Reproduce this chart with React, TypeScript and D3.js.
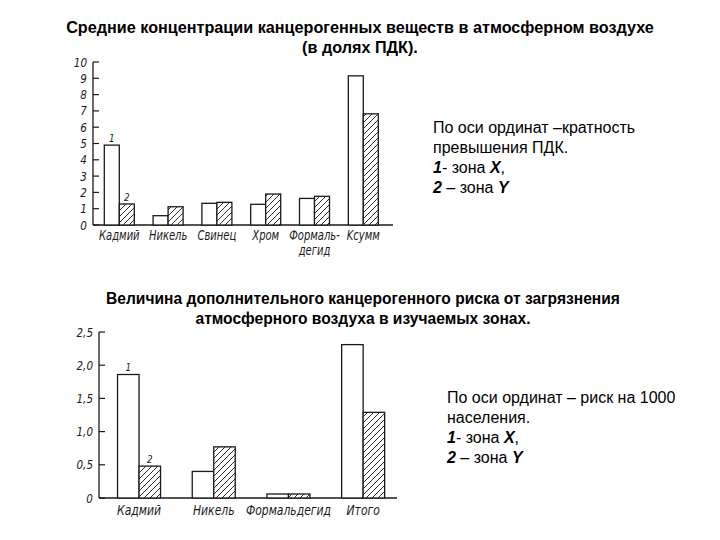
import React from 'react'
import * as d3 from 'd3'

// chart 1: mean concentrations (in MPC fractions)
const concCategories = ['Кадмий', 'Никель', 'Свинец', 'Хром', 'Формаль-\nдегид', 'Kсумм']
const concZoneX = [4.9, 0.57, 1.33, 1.27, 1.63, 9.15]
const concZoneY = [1.29, 1.12, 1.39, 1.9, 1.76, 6.82]
const concTicks = [0, 1, 2, 3, 4, 5, 6, 7, 8, 9, 10]

// chart 2: additional carcinogenic risk
const riskCategories = ['Кадмий', 'Никель', 'Формальдегид', 'Итого']
const riskZoneX = [1.86, 0.4, 0.06, 2.31]
const riskZoneY = [0.48, 0.77, 0.06, 1.29]
const riskTicks = [0, 0.5, 1.0, 1.5, 2.0, 2.5]

const INK = '#1a1a1a'
const HAND = "'DejaVu Sans', sans-serif"

// narrow, hand-lettered look: squeeze the text horizontally
function Hand({ x, y, size, anchor, sx = 0.8, children }: { x: number; y: number; size: number; anchor: 'start' | 'middle' | 'end'; sx?: number; children: React.ReactNode }) {
  return (
    <text transform={`translate(${x},${y}) scale(${sx},1)`} textAnchor={anchor} fontFamily={HAND} fontStyle="italic" fontSize={size} fill={INK}>
      {children}
    </text>
  )
}

interface BarChartProps {
  categories: string[]
  zoneX: number[]
  zoneY: number[]
  ticks: number[]
  domainMax: number
  axisX: number
  axisEnd: number
  bandStart: number
  bandEnd: number
  pairWidth: number
  baseY: number
  topY: number
  tickFmt: (v: number) => string
  labelY: number
  labelScale: number
}

function BarChart(p: BarChartProps) {
  const y = d3.scaleLinear().domain([0, p.domainMax]).range([p.baseY, p.topY])
  const step = (p.bandEnd - p.bandStart) / p.categories.length
  const pi = 1 - p.pairWidth / step
  const x0 = d3.scaleBand<string>()
    .domain(p.categories)
    .range([p.bandStart, p.bandEnd])
    .paddingInner(pi)
    .paddingOuter(pi / 2)
  const x1 = d3.scaleBand<string>().domain(['1', '2']).range([0, x0.bandwidth()])

  return (
    <g>
      {/* axes */}
      <line x1={p.axisX} x2={p.axisX} y1={p.baseY} y2={y(p.domainMax)} stroke={INK} strokeWidth={1.3} />
      <line x1={p.axisX} x2={p.axisEnd} y1={p.baseY} y2={p.baseY} stroke={INK} strokeWidth={1.3} />
      {p.ticks.map(t => (
        <g key={t}>
          <line x1={p.axisX} x2={p.axisX + 6} y1={y(t)} y2={y(t)} stroke={INK} strokeWidth={1.2} />
          <Hand x={p.axisX - 6} y={y(t) + 4.5} size={13} anchor="end">{p.tickFmt(t)}</Hand>
        </g>
      ))}
      {/* bars */}
      {p.categories.map((c, i) => {
        const bx = x0(c)!
        const ax = bx + x1('1')!
        const hx = bx + x1('2')!
        const w = x1.bandwidth()
        const lines = c.split('\n')
        return (
          <g key={c}>
            <rect x={ax} y={y(p.zoneX[i])} width={w} height={p.baseY - y(p.zoneX[i])} fill="#fff" stroke={INK} strokeWidth={1.3} />
            <rect x={hx} y={y(p.zoneY[i])} width={w} height={p.baseY - y(p.zoneY[i])} fill="url(#hatch)" stroke={INK} strokeWidth={1.3} />
            {i === 0 && (
              <>
                <Hand x={ax + w / 2} y={y(p.zoneX[i]) - 3} size={11} anchor="middle">1</Hand>
                <Hand x={hx + w / 2} y={y(p.zoneY[i]) - 3} size={11} anchor="middle">2</Hand>
              </>
            )}
            {lines.map((ln, j) => (
              <Hand key={j} x={bx + x0.bandwidth() / 2} y={p.labelY + j * 15} size={13.5} sx={p.labelScale} anchor="middle">{ln}</Hand>
            ))}
          </g>
        )
      })}
    </g>
  )
}

export default function App() {
  const title = { fontFamily: "'Liberation Sans', Arial, sans-serif", fontWeight: 700, fill: '#000' } as const
  const note = { fontFamily: "'Liberation Sans', Arial, sans-serif", fontSize: 16, fill: '#000' } as const
  return (
    <svg width={720} height={540} style={{ position: 'absolute', left: 0, top: 0, background: '#fff' }}>
      <defs>
        <pattern id="hatch" patternUnits="userSpaceOnUse" width={6} height={6}>
          <rect width={6} height={6} fill="#fff" />
          <path d="M0,6 L6,0 M-1.5,1.5 L1.5,-1.5 M4.5,7.5 L7.5,4.5" stroke={INK} strokeWidth={0.9} />
        </pattern>
      </defs>
      <text x={360} y={33} textAnchor="middle" fontSize={16.2} {...title}>Средние концентрации канцерогенных веществ в атмосферном воздухе</text>
      <text x={360} y={53} textAnchor="middle" fontSize={16.2} {...title}>(в долях ПДК).</text>

      <BarChart
        categories={concCategories}
        zoneX={concZoneX}
        zoneY={concZoneY}
        ticks={concTicks}
        domainMax={10}
        axisX={93}
        axisEnd={393}
        bandStart={94.9}
        bandEnd={387.7}
        pairWidth={30}
        baseY={225}
        topY={62}
        tickFmt={v => String(v)}
        labelY={240}
        labelScale={0.74}
      />

      <text x={433} y={133} {...note}>По оси ординат –кратность</text>
      <text x={433} y={153} {...note}>превышения ПДК.</text>
      <text x={433} y={173} {...note}><tspan fontWeight={700} fontStyle="italic">1</tspan>- зона <tspan fontWeight={700} fontStyle="italic">X</tspan>,</text>
      <text x={433} y={193} {...note}><tspan fontWeight={700} fontStyle="italic">2</tspan> – зона <tspan fontWeight={700} fontStyle="italic">Y</tspan></text>

      <text x={363} y={304} textAnchor="middle" fontSize={15.6} {...title}>Величина дополнительного канцерогенного риска от загрязнения</text>
      <text x={363} y={324} textAnchor="middle" fontSize={15.6} {...title}>атмосферного воздуха в изучаемых зонах.</text>

      <BarChart
        categories={riskCategories}
        zoneX={riskZoneX}
        zoneY={riskZoneY}
        ticks={riskTicks}
        domainMax={2.5}
        axisX={99}
        axisEnd={397}
        bandStart={101.7}
        bandEnd={400.5}
        pairWidth={43}
        baseY={498}
        topY={332}
        tickFmt={v => (v === 0 ? '0' : d3.format('.1f')(v).replace('.', ','))}
        labelY={515}
        labelScale={0.8}
      />

      <text x={447} y={403} {...note}>По оси ординат – риск на 1000</text>
      <text x={447} y={423} {...note}>населения.</text>
      <text x={447} y={443} {...note}><tspan fontWeight={700} fontStyle="italic">1</tspan>- зона <tspan fontWeight={700} fontStyle="italic">X</tspan>,</text>
      <text x={447} y={463} {...note}><tspan fontWeight={700} fontStyle="italic">2</tspan> – зона <tspan fontWeight={700} fontStyle="italic">Y</tspan></text>
    </svg>
  )
}
